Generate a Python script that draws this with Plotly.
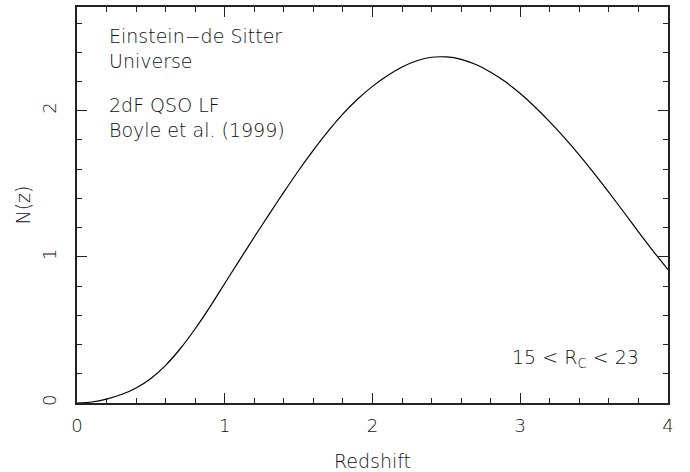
import plotly.graph_objects as go

redshift = [0.0, 0.1, 0.2, 0.3, 0.4, 0.5, 0.6, 0.7, 0.8, 0.9,
            1.0, 1.1, 1.2, 1.3, 1.4, 1.5, 1.6, 1.7, 1.8, 1.9,
            2.0, 2.1, 2.2, 2.3, 2.4, 2.5, 2.6, 2.7, 2.8, 2.9,
            3.0, 3.1, 3.2, 3.3, 3.4, 3.5, 3.6, 3.7, 3.8, 3.9, 4.0]
n_z = [0.0, 0.007, 0.027, 0.058, 0.103, 0.168, 0.258, 0.373, 0.508, 0.658,
       0.818, 0.978, 1.136, 1.291, 1.443, 1.591, 1.731, 1.861, 1.978, 2.080,
       2.167, 2.239, 2.299, 2.342, 2.366, 2.368, 2.352, 2.316, 2.264, 2.198,
       2.118, 2.026, 1.924, 1.814, 1.696, 1.571, 1.441, 1.307, 1.171, 1.039, 0.913]

x_ticks = [0, 1, 2, 3, 4]
y_ticks = [0, 1, 2]

FONT = "DejaVu Sans"
TXT = "#111111"
AX = "#222222"

fig = go.Figure()
fig.add_trace(go.Scatter(x=redshift, y=n_z, mode="lines",
                         line=dict(color="black", width=1.2, shape="spline", smoothing=0.8),
                         hoverinfo="skip", showlegend=False))

def tfont(size):
    return dict(family=FONT, size=size, color=TXT, weight=200)

axis_common = dict(showline=True, linecolor=AX, linewidth=1.5, mirror="ticks",
                   ticks="inside", ticklen=10, tickwidth=1.3, tickcolor=AX,
                   showgrid=False, zeroline=False, automargin=False,
                   tickmode="array", tickfont=tfont(18))

fig.update_xaxes(range=[0, 4], tickvals=x_ticks, ticktext=[str(v) for v in x_ticks],
                 minor=dict(dtick=0.2, tick0=0, ticks="inside", ticklen=5, tickcolor=AX, tickwidth=1.2),
                 title=dict(text="Redshift", font=tfont(19), standoff=22),
                 ticklabelstandoff=6,
                 **axis_common)
fig.update_yaxes(range=[0, 2.71], tickvals=y_ticks, ticktext=[str(v) for v in y_ticks],
                 tickangle=-90,
                 minor=dict(dtick=0.2, tick0=0, ticks="inside", ticklen=5, tickcolor=AX, tickwidth=1.2),
                 title=dict(text="N(z)", font=tfont(19), standoff=3),
                 ticklabelstandoff=12,
                 **axis_common)

def note(x, y, text, anchor="left"):
    fig.add_annotation(xref="paper", yref="paper", x=x, y=y, text=text, showarrow=False,
                       xanchor=anchor, yanchor="middle", font=tfont(19), align="left",
                       borderpad=0)

note(0.052, 0.895, "Einstein−de Sitter<br>Universe")
note(0.052, 0.722, "2dF QSO LF<br>Boyle et al. (1999)")
note(0.953, 0.112, "15 &lt; R<sub>C</sub> &lt; 23", anchor="right")

fig.update_layout(width=690, height=472, margin=dict(l=77, r=22, t=7, b=69),
                  plot_bgcolor="white", paper_bgcolor="white")

fig.write_html("out.html")
